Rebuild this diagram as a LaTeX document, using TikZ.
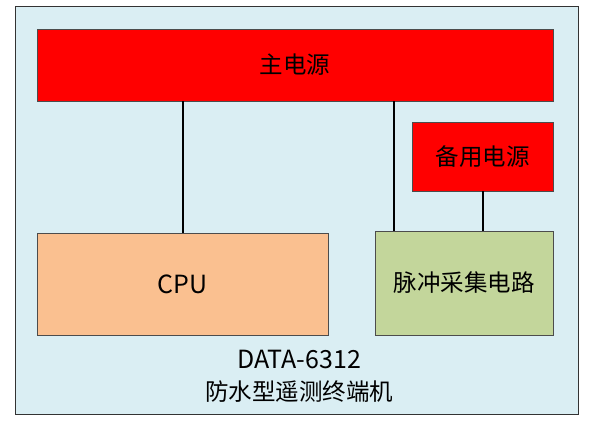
\documentclass[tikz,border=0pt]{standalone}
\usepackage{fontspec}
\setmainfont{Noto Sans CJK SC}
\definecolor{bgblue}{HTML}{DAEEF3}
\definecolor{cpuorange}{HTML}{FAC090}
\definecolor{pulsegreen}{HTML}{C3D69B}
\tikzset{
  block/.style={draw=black!70,line width=0.8pt,minimum width=#1,inner sep=0pt,font=\fontsize{23.5}{26}\selectfont},
  latin/.style={font=\fontsize{25}{28}\selectfont},
  wire/.style={line width=2pt}
}
\begin{document}
\begin{tikzpicture}[x=1pt,y=-1pt]
\useasboundingbox (0,0) rectangle (599,427);
\draw[fill=bgblue,line width=1pt,draw=black!80] (15,7) rectangle (578,414);
\node[block=516pt,fill=red,minimum height=72pt] (mainpwr) at (295,65) {主电源};
\node[block=141pt,fill=red,minimum height=69pt] (backup) at (482.5,156.5) {备用电源};
\node[block=291pt,fill=cpuorange,minimum height=102pt,latin] (cpu) at (182.5,284) {CPU};
\node[block=178pt,fill=pulsegreen,minimum height=104pt] (pulse) at (464,283) {脉冲采集电路};
\coordinate (tap) at ([xshift=19pt]pulse.north west);
\draw[wire] (cpu.north) -- (cpu.north |- mainpwr.south);
\draw[wire] (tap) -- (tap |- mainpwr.south);
\draw[wire] (backup.south) -- (backup.south |- pulse.north);
\node[latin] (model) at (299,359) {DATA-6312};
\node[font=\fontsize{23.5}{26}\selectfont] (title) at (299,392) {防水型遥测终端机};
\end{tikzpicture}
\end{document}
